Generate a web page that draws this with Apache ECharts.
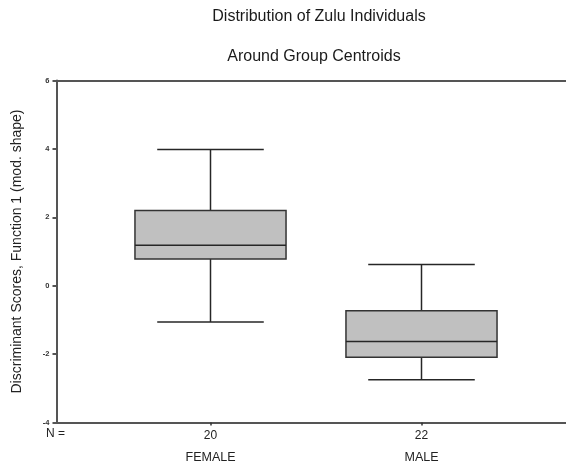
<!DOCTYPE html>
<html>
<head>
<meta charset="utf-8">
<script src="https://cdn.jsdelivr.net/npm/echarts@6/dist/echarts.min.js"></script>
<style>html,body{margin:0;padding:0;background:#fff;}#c{width:566px;height:468px;}</style>
</head>
<body>
<div id="c"></div>
<script>
var categories = ['FEMALE', 'MALE'];
var counts = [20, 22];
var whiskerLow = [-1.06, -2.75];
var q1 = [0.78, -2.09];
var median = [1.18, -1.63];
var q3 = [2.2, -0.73];
var whiskerHigh = [3.98, 0.62];
var yTicks = {min: -4, max: 6, interval: 2};

var data = categories.map(function (c, i) {
  return [i, whiskerLow[i], q1[i], median[i], q3[i], whiskerHigh[i]];
});

var FONT = 'Liberation Sans, Arial, sans-serif';
var chart = echarts.init(document.getElementById('c'), null, {renderer: 'canvas'});
chart.setOption({
  backgroundColor: '#fff',
  animation: false,
  title: [
    {text: 'Distribution of Zulu Individuals', left: 314, top: 4, textAlign: 'center',
     textStyle: {fontFamily: FONT, fontSize: 16, fontWeight: 'normal', color: '#1a1a1a'}},
    {text: 'Around Group Centroids', left: 309, top: 44, textAlign: 'center',
     textStyle: {fontFamily: FONT, fontSize: 16, fontWeight: 'normal', color: '#1a1a1a'}}
  ],
  graphic: [
    {type: 'text', left: 46, top: 428, style: {text: 'N =', font: '12px ' + FONT, fill: '#222'}}
  ],
  grid: [
    {left: 56.5, right: -40, top: 80.5, bottom: 45.5},
    {left: 105, right: 39, top: 80.5, bottom: 45.5}
  ],
  xAxis: [
    {type: 'value', gridIndex: 0, position: 'bottom', min: 0, max: 1,
     axisLine: {show: true, onZero: false, lineStyle: {color: '#555', width: 2}},
     axisTick: {show: false}, axisLabel: {show: false}, splitLine: {show: false}},
    {type: 'value', gridIndex: 0, position: 'top', min: 0, max: 1,
     axisLine: {show: true, onZero: false, lineStyle: {color: '#555', width: 2}},
     axisTick: {show: false}, axisLabel: {show: false}, splitLine: {show: false}},
    {type: 'category', gridIndex: 1, data: categories, boundaryGap: true,
     axisLine: {show: false, onZero: false},
     axisTick: {show: true, alignWithLabel: true, length: 3, lineStyle: {color: '#333', width: 1.5}},
     axisLabel: {
       margin: 6,
       formatter: function (v, i) { return '{n|' + counts[i] + '}\n{c|' + v + '}'; },
       rich: {
         n: {fontFamily: FONT, fontSize: 12, color: '#222', lineHeight: 14},
         c: {fontFamily: FONT, fontSize: 12.5, color: '#222', lineHeight: 31}
       }
     },
     splitLine: {show: false}}
  ],
  yAxis: [
    {type: 'value', gridIndex: 0, min: yTicks.min, max: yTicks.max, interval: yTicks.interval,
     name: 'Discriminant Scores, Function 1 (mod. shape)', nameLocation: 'middle', nameGap: 32,
     nameTextStyle: {fontFamily: FONT, fontSize: 14, color: '#222'},
     axisLine: {show: true, onZero: false, lineStyle: {color: '#555', width: 2}},
     axisTick: {show: true, length: 4, lineStyle: {color: '#555', width: 2}},
     axisLabel: {margin: 7, fontFamily: FONT, fontSize: 7.5, fontWeight: 'bold', color: '#333'},
     splitLine: {show: false}},
    {type: 'value', gridIndex: 1, min: yTicks.min, max: yTicks.max, interval: yTicks.interval, show: false,
     splitLine: {show: false}}
  ],
  series: [{
    type: 'custom',
    xAxisIndex: 2, yAxisIndex: 1,
    data: data,
    renderItem: function (params, api) {
      var idx = api.value(0);
      var band = api.size([1, 0])[0];
      var boxW = band * 0.716, capW = band * 0.505;
      var x = api.coord([idx, 0])[0];
      var yLo = api.coord([idx, api.value(1)])[1];
      var yQ1 = api.coord([idx, api.value(2)])[1];
      var yMed = api.coord([idx, api.value(3)])[1];
      var yQ3 = api.coord([idx, api.value(4)])[1];
      var yHi = api.coord([idx, api.value(5)])[1];
      var ls = {stroke: '#262626', lineWidth: 1.5};
      return {type: 'group', children: [
        {type: 'line', shape: {x1: x, y1: yHi, x2: x, y2: yQ3}, style: ls},
        {type: 'line', shape: {x1: x, y1: yQ1, x2: x, y2: yLo}, style: ls},
        {type: 'line', shape: {x1: x - capW / 2, y1: yHi, x2: x + capW / 2, y2: yHi}, style: ls},
        {type: 'line', shape: {x1: x - capW / 2, y1: yLo, x2: x + capW / 2, y2: yLo}, style: ls},
        {type: 'rect', shape: {x: x - boxW / 2, y: yQ3, width: boxW, height: yQ1 - yQ3},
         style: {fill: '#c0c0c0', stroke: '#333', lineWidth: 1.5}},
        {type: 'line', shape: {x1: x - boxW / 2, y1: yMed, x2: x + boxW / 2, y2: yMed}, style: ls}
      ]};
    }
  }]
});
</script>
</body>
</html>
